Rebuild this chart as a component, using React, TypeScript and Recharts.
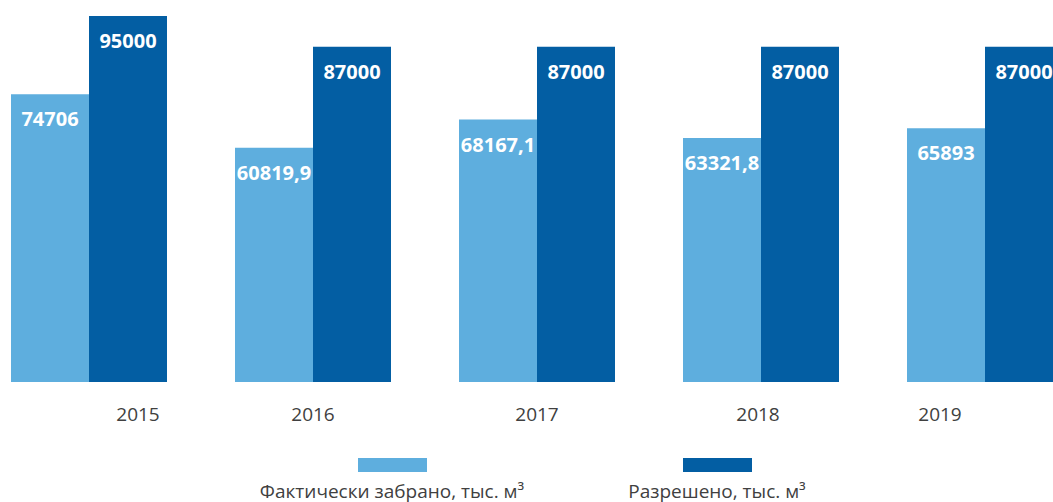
import React from "react";
import { BarChart, Bar, XAxis, YAxis, LabelList } from "recharts";

const years = ["2015", "2016", "2017", "2018", "2019"];
const withdrawn = [74706, 60819.9, 68167.1, 63321.8, 65893];
const permitted = [95000, 87000, 87000, 87000, 87000];
const withdrawnLabels = ["74706", "60819,9", "68167,1", "63321,8", "65893"];
const permittedLabels = ["95000", "87000", "87000", "87000", "87000"];

const LIGHT = "#5eaede";
const DARK = "#035ea3";
const TEXT = "#404040";
const FONT = "'Open Sans', 'Noto Sans', sans-serif";

// the source layout nudges the outer year captions inward
const tickShift = [49, 0, 0, -3, -45];

const data = years.map((year, i) => ({
  year,
  withdrawn: withdrawn[i],
  permitted: permitted[i],
  withdrawnLabel: withdrawnLabels[i],
  permittedLabel: permittedLabels[i],
}));

const legendItems = [
  { name: "Фактически забрано, тыс. м³", color: LIGHT, center: 392 },
  { name: "Разрешено, тыс. м³", color: DARK, center: 717 },
];

const YearTick = (props: any) => {
  const { x, y, payload, index } = props;
  return (
    <text
      x={x + (tickShift[index] || 0)}
      y={y}
      dy="0.71em"
      textAnchor="middle"
      fill={TEXT}
      fontSize={19}
      fontFamily={FONT}
    >
      {payload.value}
    </text>
  );
};

export default function App() {
  return (
    <div
      style={{
        position: "absolute",
        left: 0,
        top: 0,
        width: 1053,
        height: 502,
        overflow: "hidden",
        background: "#fff",
        fontFamily: FONT,
      }}
    >
      <div style={{ position: "absolute", left: -23, top: 0 }}>
        <BarChart
          width={1120}
          height={440}
          data={data}
          margin={{ top: 16, right: 0, left: 0, bottom: 0 }}
          barGap={0}
          barSize={78}
        >
          <XAxis
            dataKey="year"
            axisLine={false}
            tickLine={false}
            tickSize={0}
            tickMargin={26}
            height={58}
            interval={0}
            tick={<YearTick />}
          />
          <YAxis hide domain={[0, 95000]} />
          <Bar dataKey="withdrawn" fill={LIGHT} isAnimationActive={false}>
            <LabelList
              dataKey="withdrawnLabel"
              position="insideTop"
              offset={18}
              fill="#fff"
              style={{ fontSize: 20, fontWeight: 700, fontFamily: FONT }}
            />
          </Bar>
          <Bar dataKey="permitted" fill={DARK} isAnimationActive={false}>
            <LabelList
              dataKey="permittedLabel"
              position="insideTop"
              offset={18}
              fill="#fff"
              style={{ fontSize: 20, fontWeight: 700, fontFamily: FONT }}
            />
          </Bar>
        </BarChart>
      </div>
      {legendItems.map((item) => (
        <div
          key={item.name}
          style={{
            position: "absolute",
            left: item.center - 200,
            top: 458,
            width: 400,
            display: "flex",
            flexDirection: "column",
            alignItems: "center",
          }}
        >
          <div style={{ width: 69, height: 14, background: item.color }} />
          <div style={{ marginTop: 9, fontSize: 19, color: TEXT, lineHeight: "20px" }}>
            {item.name}
          </div>
        </div>
      ))}
    </div>
  );
}
